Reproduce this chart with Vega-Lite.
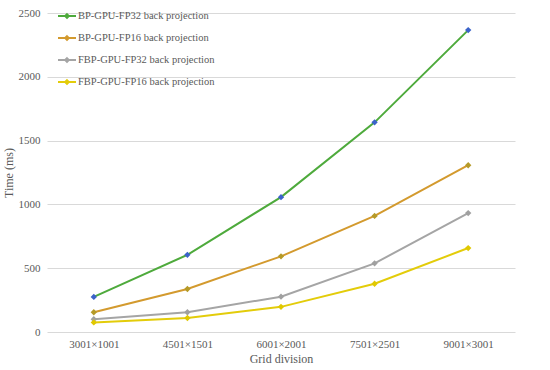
{
  "$schema": "https://vega.github.io/schema/vega-lite/v6.json",
  "autosize": {"type": "none"},
  "padding": {"left": 47, "top": 13, "right": 35, "bottom": 38},
  "width": 468,
  "height": 319,
  "background": "white",
  "config": {
    "font": "Liberation Serif",
    "view": {"stroke": null},
    "axis": {"labelFont": "Liberation Serif", "titleFont": "Liberation Serif", "labelColor": "#595959", "titleColor": "#595959", "labelFontSize": 11, "titleFontSize": 12, "titleFontWeight": "normal"}
  },
  "data": {"values": [
    {"grid": "3001×1001", "series": "BP-GPU-FP32 back projection", "time": 275},
    {"grid": "4501×1501", "series": "BP-GPU-FP32 back projection", "time": 605},
    {"grid": "6001×2001", "series": "BP-GPU-FP32 back projection", "time": 1057},
    {"grid": "7501×2501", "series": "BP-GPU-FP32 back projection", "time": 1643},
    {"grid": "9001×3001", "series": "BP-GPU-FP32 back projection", "time": 2366},
    {"grid": "3001×1001", "series": "BP-GPU-FP16 back projection", "time": 155},
    {"grid": "4501×1501", "series": "BP-GPU-FP16 back projection", "time": 337},
    {"grid": "6001×2001", "series": "BP-GPU-FP16 back projection", "time": 593},
    {"grid": "7501×2501", "series": "BP-GPU-FP16 back projection", "time": 910},
    {"grid": "9001×3001", "series": "BP-GPU-FP16 back projection", "time": 1307},
    {"grid": "3001×1001", "series": "FBP-GPU-FP32 back projection", "time": 100},
    {"grid": "4501×1501", "series": "FBP-GPU-FP32 back projection", "time": 155},
    {"grid": "6001×2001", "series": "FBP-GPU-FP32 back projection", "time": 277},
    {"grid": "7501×2501", "series": "FBP-GPU-FP32 back projection", "time": 538},
    {"grid": "9001×3001", "series": "FBP-GPU-FP32 back projection", "time": 932},
    {"grid": "3001×1001", "series": "FBP-GPU-FP16 back projection", "time": 75},
    {"grid": "4501×1501", "series": "FBP-GPU-FP16 back projection", "time": 110},
    {"grid": "6001×2001", "series": "FBP-GPU-FP16 back projection", "time": 197},
    {"grid": "7501×2501", "series": "FBP-GPU-FP16 back projection", "time": 378},
    {"grid": "9001×3001", "series": "FBP-GPU-FP16 back projection", "time": 658}
  ]},
  "encoding": {
    "x": {"field": "grid", "type": "ordinal", "sort": null, "scale": {"type": "point", "padding": 0.5},
      "axis": {"title": "Grid division", "labelAngle": 0, "domain": false, "ticks": false, "grid": false, "labelPadding": 6, "titlePadding": 4}},
    "y": {"field": "time", "type": "quantitative", "scale": {"domain": [0, 2500], "nice": false},
      "axis": {"title": "Time (ms)", "format": "d", "values": [0, 500, 1000, 1500, 2000, 2500], "domain": false, "ticks": false, "gridColor": "#D9D9D9", "labelPadding": 7, "titlePadding": 3}}
  },
  "layer": [
    {
      "mark": {"type": "line", "strokeWidth": 2},
      "encoding": {
        "color": {"field": "series", "type": "nominal", "sort": null,
          "scale": {"domain": ["BP-GPU-FP32 back projection", "BP-GPU-FP16 back projection", "FBP-GPU-FP32 back projection", "FBP-GPU-FP16 back projection"],
                    "range": ["#4EAA3C", "#D39A2E", "#A5A5A5", "#E3CC0A"]},
          "legend": {"title": null, "orient": "none", "legendX": 10, "legendY": -7, "labelFont": "Liberation Serif", "labelFontSize": 10.5, "labelColor": "#595959",
            "symbolType": "M-1,0L1,0M0,-0.22L0.22,0L0,0.22L-0.22,0Z", "symbolSize": 324, "symbolStrokeWidth": 1.8, "rowPadding": 6, "labelOffset": 1,
            "encode": {"symbols": {"update": {"fill": {"scale": "color", "field": "value"}}}}}}
      }
    },
    {
      "mark": {"type": "point", "shape": "diamond", "filled": true, "size": 40, "opacity": 1},
      "encoding": {
        "fill": {"field": "series", "type": "nominal", "legend": null,
          "scale": {"domain": ["BP-GPU-FP32 back projection", "BP-GPU-FP16 back projection", "FBP-GPU-FP32 back projection", "FBP-GPU-FP16 back projection"],
                    "range": ["#3B63C9", "#B59A28", "#A0A0A0", "#E0C800"]}}
      }
    }
  ]
}
